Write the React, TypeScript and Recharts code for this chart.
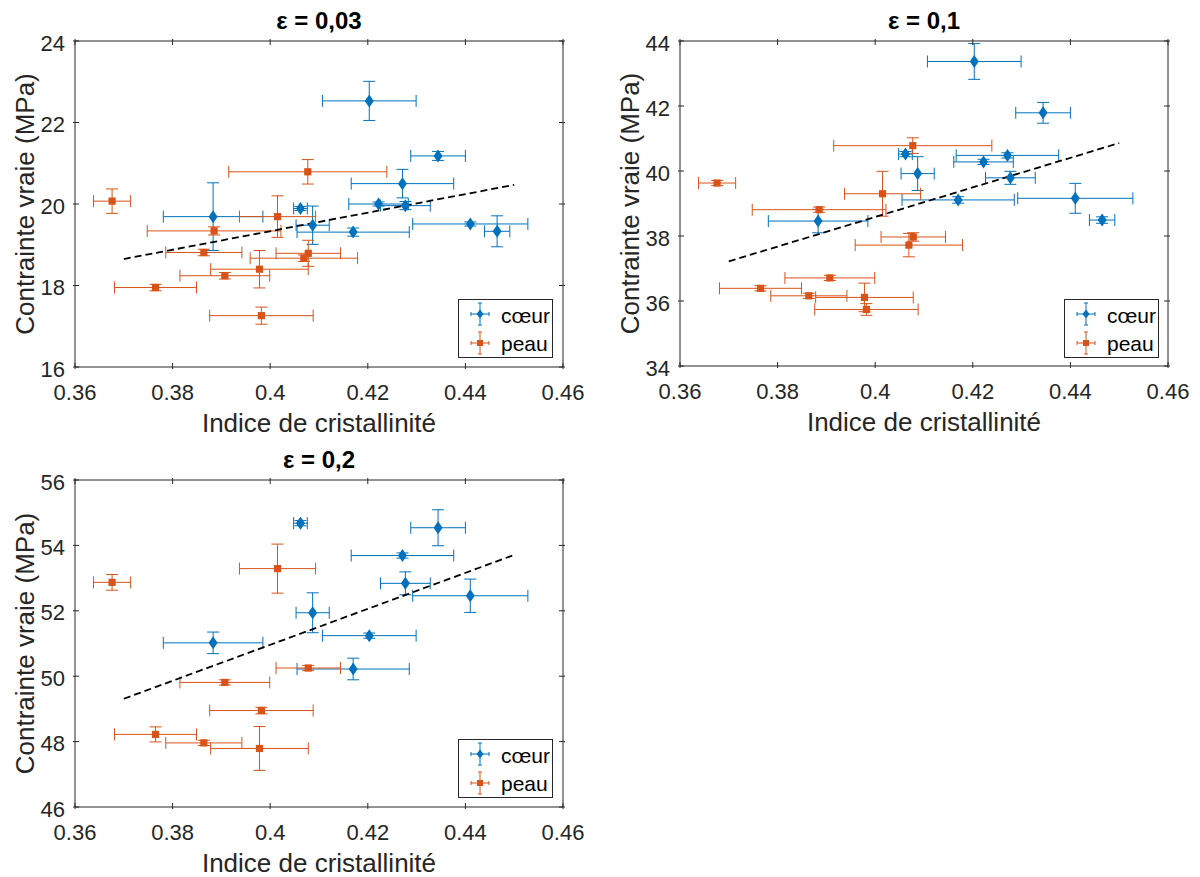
import React from 'react';
import { ScatterChart, Scatter, XAxis, YAxis, ErrorBar, ReferenceLine } from 'recharts';

const BLUE = '#0072BD';
const ORANGE = '#D95319';
const AXIS = '#262626';
const FONT = '"Liberation Sans", Arial, Helvetica, sans-serif';

// crystallinity index of each sample (same samples in every panel)
const xCoeur = [0.4203, 0.4344, 0.4271, 0.4222, 0.4277, 0.4062, 0.3883, 0.4087, 0.417, 0.441, 0.4465];
const exCoeur = [0.0096, 0.0056, 0.0105, 0.0061, 0.0051, 0.0014, 0.0102, 0.0034, 0.0115, 0.0118, 0.0026];
const xPeau = [0.3676, 0.4077, 0.4015, 0.3885, 0.3864, 0.4078, 0.4069, 0.3978, 0.3907, 0.3765, 0.3982];
const exPeau = [0.0038, 0.0162, 0.0078, 0.0137, 0.0078, 0.0066, 0.011, 0.01, 0.0092, 0.0084, 0.0106];

// true stress (MPa) per strain level, null = no measurement
const yCoeur003 = [22.53, 21.18, 20.5, 20.0, 19.96, 19.89, 19.69, 19.48, 19.31, 19.51, 19.33];
const eyCoeur003 = [0.48, 0.11, 0.35, 0.05, 0.1, 0.05, 0.83, 0.47, 0.1, 0.05, 0.38];
const yPeau003 = [20.07, 20.79, 19.69, 19.34, 18.81, 18.79, 18.67, 18.4, 18.24, 17.95, 17.26];
const eyPeau003 = [0.3, 0.3, 0.51, 0.1, 0.08, 0.32, 0.08, 0.46, 0.08, 0.08, 0.21];

const yCoeur01 = [43.37, 41.79, 40.48, 40.28, 39.79, 40.52, 38.46, 39.92, 39.11, 39.16, 38.49];
const eyCoeur01 = [0.55, 0.32, 0.08, 0.08, 0.2, 0.08, 0.36, 0.52, 0.1, 0.46, 0.1];
const yPeau01 = [39.63, 40.78, 39.3, 38.81, 36.16, 37.97, 37.72, 36.11, 36.71, 36.39, 35.74];
const eyPeau01 = [0.08, 0.24, 0.69, 0.08, 0.08, 0.13, 0.36, 0.44, 0.08, 0.08, 0.18];

const yCoeur02 = [51.24, 54.54, 53.69, null, 52.84, 54.68, 51.02, 51.94, 50.22, 52.46, null];
const eyCoeur02 = [0.08, 0.55, 0.08, null, 0.35, 0.08, 0.33, 0.61, 0.33, 0.51, null];
const yPeau02 = [52.87, null, 53.29, null, 47.96, 50.25, null, 47.79, 49.81, 48.22, 48.95];
const eyPeau02 = [0.24, null, 0.75, null, 0.08, 0.08, null, 0.67, 0.08, 0.23, 0.1];

// linear fit endpoints
const trendX = [0.37, 0.45];
const trend003 = [18.65, 20.47];
const trend01 = [37.22, 40.86];
const trend02 = [49.31, 53.71];

const xTicks = [0.36, 0.38, 0.4, 0.42, 0.44, 0.46];
const yTicks003 = [16, 18, 20, 22, 24];
const yTicks01 = [34, 36, 38, 40, 42, 44];
const yTicks02 = [46, 48, 50, 52, 54, 56];

type Pt = { x: number; y: number; ex: number; ey: number };

const build = (xs: number[], exs: number[], ys: (number | null)[], eys: (number | null)[]): Pt[] => {
  const out: Pt[] = [];
  xs.forEach((x, i) => {
    const y = ys[i];
    if (y == null) return;
    out.push({ x, y, ex: exs[i], ey: eys[i] ?? 0 });
  });
  return out;
};

const Diamond = (props: any) => {
  const { cx, cy } = props;
  return <path d={`M${cx},${cy - 6.5}L${cx + 4.5},${cy}L${cx},${cy + 6.5}L${cx - 4.5},${cy}Z`} fill={BLUE} />;
};

const Square = (props: any) => {
  const { cx, cy } = props;
  return <rect x={cx - 3.6} y={cy - 3.6} width={7.2} height={7.2} fill={ORANGE} />;
};

const NoShape = () => <g />;

const fmtX = (v: number) => String(Number(v.toFixed(2)));

const XTick = (props: any) => {
  const { x, y, payload, top } = props;
  return (
    <g>
      <line x1={x} x2={x} y1={y} y2={top ? y + 6 : y - 6} stroke={AXIS} />
      {!top && (
        <text x={x} y={y + 31} textAnchor="middle" fontSize={22} fill={AXIS} fontFamily={FONT}>
          {fmtX(payload.value)}
        </text>
      )}
    </g>
  );
};

const YTick = (props: any) => {
  const { x, y, payload, right } = props;
  return (
    <g>
      <line x1={x} x2={right ? x - 6 : x + 6} y1={y} y2={y} stroke={AXIS} />
      {!right && (
        <text x={x - 8} y={y + 9.5} textAnchor="end" fontSize={22} fill={AXIS} fontFamily={FONT}>
          {payload.value}
        </text>
      )}
    </g>
  );
};

const XLabel = (props: any) => {
  const vb = props.viewBox;
  return (
    <text x={vb.x + vb.width / 2} y={vb.y + 65} textAnchor="middle" fontSize={26} fill={AXIS} fontFamily={FONT}>
      Indice de cristallinité
    </text>
  );
};

const YLabel = (props: any) => {
  const vb = props.viewBox;
  const cy = vb.y + vb.height / 2;
  return (
    <text
      transform={`translate(${vb.x + 34},${cy}) rotate(-90)`}
      textAnchor="middle"
      fontSize={26}
      fill={AXIS}
      fontFamily={FONT}
    >
      Contrainte vraie (MPa)
    </text>
  );
};

const TitleLabel = (props: any) => {
  const vb = props.viewBox;
  return (
    <text x={vb.x + vb.width / 2} y={vb.y + vb.height - 12} textAnchor="middle" fontSize={24} fontWeight="bold" fill="#000" fontFamily={FONT}>
      {props.text}
    </text>
  );
};

const LegendIcon = ({ y, color, square }: { y: number; color: string; square?: boolean }) => (
  <g stroke={color} strokeWidth={1}>
    <line x1={22} x2={22} y1={y - 11} y2={y + 11} />
    <line x1={20} x2={24} y1={y - 11} y2={y - 11} />
    <line x1={20} x2={24} y1={y + 11} y2={y + 11} />
    <line x1={13} x2={31} y1={y} y2={y} />
    <line x1={13} x2={13} y1={y - 2} y2={y + 2} />
    <line x1={31} x2={31} y1={y - 2} y2={y + 2} />
    {square ? (
      <rect x={19} y={y - 3} width={6} height={6} fill={color} stroke="none" />
    ) : (
      <path d={`M22,${y - 4.5}L25.5,${y}L22,${y + 4.5}L18.5,${y}Z`} fill={color} stroke="none" />
    )}
  </g>
);

const LegendBox = ({ left, top }: { left: number; top: number }) => (
  <div style={{ position: 'absolute', left, top, width: 95, height: 59 }}>
    <svg width={95} height={59} style={{ display: 'block' }}>
      <rect x={0.5} y={0.5} width={94} height={58} fill="#fff" stroke={AXIS} strokeWidth={1} />
      <LegendIcon y={15} color={BLUE} />
      <LegendIcon y={44} color={ORANGE} square />
      <text x={43} y={23.5} fontSize={21} fill="#000" fontFamily={FONT}>cœur</text>
      <text x={43} y={52} fontSize={21} fill="#000" fontFamily={FONT}>peau</text>
    </svg>
  </div>
);

interface PanelProps {
  title: string;
  left: number;
  top: number;
  width: number;
  height: number;
  right: number;
  xHeight: number;
  yDomain: [number, number];
  yTicks: number[];
  coeur: Pt[];
  peau: Pt[];
  trend: number[];
}

const Panel: React.FC<PanelProps> = ({ title, left, top, width, height, right, xHeight, yDomain, yTicks, coeur, peau, trend }) => (
  <div style={{ position: 'absolute', left, top }}>
    <ScatterChart width={width} height={height} margin={{ top: 40, right: right - 1, bottom: 0, left: 0 }}>
      <XAxis
        type="number"
        dataKey="x"
        domain={[0.36, 0.46]}
        allowDataOverflow
        ticks={xTicks}
        interval={0}
        height={xHeight}
        tickSize={0}
        tickLine={false}
        tick={<XTick />}
        axisLine={{ stroke: AXIS, strokeWidth: 1 }}
        label={<XLabel />}
      />
      <XAxis
        xAxisId="top"
        orientation="top"
        type="number"
        dataKey="x"
        domain={[0.36, 0.46]}
        allowDataOverflow
        ticks={xTicks}
        interval={0}
        height={1}
        tickSize={0}
        tickLine={false}
        tick={<XTick top />}
        axisLine={{ stroke: AXIS, strokeWidth: 1 }}
        label={<TitleLabel text={title} />}
      />
      <YAxis
        type="number"
        dataKey="y"
        domain={yDomain}
        allowDataOverflow
        ticks={yTicks}
        interval={0}
        width={75}
        tickSize={0}
        tickLine={false}
        tick={<YTick />}
        axisLine={{ stroke: AXIS, strokeWidth: 1 }}
        label={<YLabel />}
      />
      <YAxis
        yAxisId="right"
        orientation="right"
        type="number"
        dataKey="y"
        domain={yDomain}
        allowDataOverflow
        ticks={yTicks}
        interval={0}
        width={1}
        tickSize={0}
        tickLine={false}
        tick={<YTick right />}
        axisLine={{ stroke: AXIS, strokeWidth: 1 }}
      />
      {/* invisible series so the mirrored box axes (top/right) get drawn */}
      <Scatter data={coeur} xAxisId="top" yAxisId="right" shape={NoShape} legendType="none" isAnimationActive={false} />
      <Scatter data={coeur} shape={Diamond} isAnimationActive={false}>
        <ErrorBar dataKey="ex" direction="x" width={6} stroke={BLUE} strokeWidth={1} />
        <ErrorBar dataKey="ey" direction="y" width={6} stroke={BLUE} strokeWidth={1} />
      </Scatter>
      <Scatter data={peau} shape={Square} isAnimationActive={false}>
        <ErrorBar dataKey="ex" direction="x" width={6} stroke={ORANGE} strokeWidth={1} />
        <ErrorBar dataKey="ey" direction="y" width={6} stroke={ORANGE} strokeWidth={1} />
      </Scatter>
      <ReferenceLine
        segment={[
          { x: trendX[0], y: trend[0] },
          { x: trendX[1], y: trend[1] },
        ]}
        stroke="#000"
        strokeWidth={1.8}
        strokeDasharray="7 4"
        ifOverflow="visible"
      />
    </ScatterChart>
  </div>
);

const App: React.FC = () => (
  <div style={{ position: 'absolute', left: 0, top: 0, width: 1200, height: 877, overflow: 'hidden', background: '#fff', fontFamily: FONT }}>
    <Panel
      title="ε = 0,03"
      left={0}
      top={0}
      width={600}
      height={440}
      right={37}
      xHeight={73}
      yDomain={[16, 24]}
      yTicks={yTicks003}
      coeur={build(xCoeur, exCoeur, yCoeur003, eyCoeur003)}
      peau={build(xPeau, exPeau, yPeau003, eyPeau003)}
      trend={trend003}
    />
    <Panel
      title="ε = 0,1"
      left={605}
      top={0}
      width={595}
      height={439}
      right={32}
      xHeight={73}
      yDomain={[34, 44]}
      yTicks={yTicks01}
      coeur={build(xCoeur, exCoeur, yCoeur01, eyCoeur01)}
      peau={build(xPeau, exPeau, yPeau01, eyPeau01)}
      trend={trend01}
    />
    <Panel
      title="ε = 0,2"
      left={0}
      top={439}
      width={600}
      height={438}
      right={37}
      xHeight={70}
      yDomain={[46, 56]}
      yTicks={yTicks02}
      coeur={build(xCoeur, exCoeur, yCoeur02, eyCoeur02)}
      peau={build(xPeau, exPeau, yPeau02, eyPeau02)}
      trend={trend02}
    />
    <LegendBox left={458} top={299} />
    <LegendBox left={1064} top={299} />
    <LegendBox left={458} top={739} />
  </div>
);

export default App;
